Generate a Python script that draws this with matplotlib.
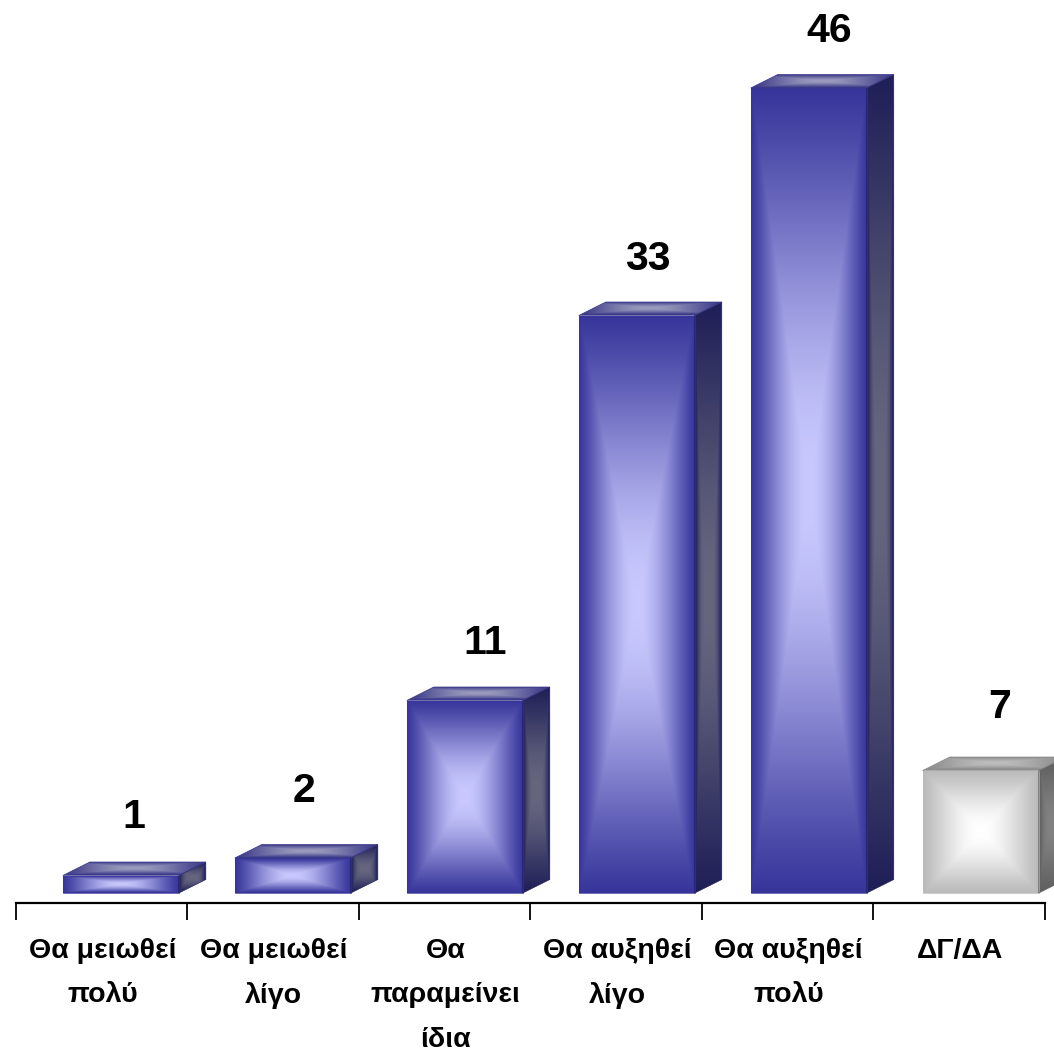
import numpy as np
import matplotlib
matplotlib.use("Agg")
import matplotlib.pyplot as plt
from matplotlib.colors import to_rgb
from matplotlib.patches import Polygon

categories = ["Θα μειωθεί\nπολύ", "Θα μειωθεί\nλίγο", "Θα\nπαραμείνει\nίδια",
              "Θα αυξηθεί\nλίγο", "Θα αυξηθεί\nπολύ", "ΔΓ/ΔΑ"]
values = [1, 2, 11, 33, 46, 7]
blue = dict(front=("#37359a", "#c9c9ff"), side=("#1f1f58", "#66667f"), top=("#3a3888", "#9c9cbe"))
grey = dict(front=("#bababa", "#ffffff"), side=("#5e5e5e", "#828282"), top=("#8a8a8a", "#bdbdbd"))
bar_styles = [blue, blue, blue, blue, blue, grey]
# hand placed value labels, pixels from the top middle of the front face
label_dx = [13.5, 11.5, 20, 11.5, 20, 19]
label_dy = [59, 67, 57, 56, 57, 64]

plt.rcParams['font.family'] = ['Liberation Sans', 'DejaVu Sans']
plt.rcParams['font.weight'] = 'bold'

W = 1054
PX = 0.72  # points per pixel at dpi 100
fig = plt.figure(figsize=(W / 100, W / 100), dpi=100)
ax = fig.add_axes([15.5 / W, (W - 893) / W, (1045 - 15.5) / W, 893 / W])
ax.set_xlim(0, 6)
ax.set_ylim(0, 893 / 17.5)
ax.patch.set_visible(False)

# width and depth of the boxes, in data units
step = 172 / 171.6
bar_w = 116 / 171.6
shift = 19.5 / 171.6
dx = 27 / 171.6
dy = 13.5 / 17.5


def shade(a):
    # a bit of s-curve, the light core stays wide
    return 0.5 * a * a * (3 - 2 * a) + 0.5 * a ** 2


def gradient(edge, mid, t):
    edge, mid = np.array(to_rgb(edge)), np.array(to_rgb(mid))
    return mid + (edge - mid) * t[..., None]


def face(poly_pts, extent, img, edge):
    poly = Polygon(poly_pts, closed=True, fc='none', ec=edge, lw=0.5, zorder=4, clip_on=False)
    ax.add_patch(poly)
    im = ax.imshow(img, extent=extent, origin='lower', aspect='auto', zorder=3,
                   interpolation='bilinear')
    im.set_clip_path(poly)
    im.set_clip_box(fig.bbox)


xs = np.arange(len(values)) * step + 0.5 + shift
bars = ax.bar(xs, values, width=bar_w, color='none', zorder=2)

for rect, val, st, ldx, ldy in zip(bars, values, bar_styles, label_dx, label_dy):
    x0, w = rect.get_x(), rect.get_width()
    x1 = x0 + w
    h = rect.get_height()

    # front face, rectangular gradient towards the middle
    ny, nx = max(int(h * 17.5), 8), 117
    u, v = np.meshgrid(np.linspace(-1, 1, nx), np.linspace(-1, 1, ny))
    t = shade(np.maximum(np.abs(u), np.abs(v)))
    face([(x0, 0), (x1, 0), (x1, h), (x0, h)], (x0, x1, 0, h),
         gradient(*st['front'], t), st['front'][0])

    # side face
    ny2 = ny + 14
    u, v = np.meshgrid(np.linspace(-1, 1, 27), np.linspace(-1, 1, ny2))
    t = shade(np.maximum(np.abs(v), np.abs(u) ** 2))
    face([(x1, 0), (x1 + dx, dy), (x1 + dx, h + dy), (x1, h)], (x1, x1 + dx, 0, h + dy),
         gradient(*st['side'], t), st['side'][0])

    # top face
    u, v = np.meshgrid(np.linspace(-1, 1, nx + 27), np.linspace(-1, 1, 14))
    t = shade(np.maximum(np.abs(u), np.abs(v)))
    face([(x0, h), (x1, h), (x1 + dx, h + dy), (x0 + dx, h + dy)], (x0, x1 + dx, h, h + dy),
         gradient(*st['top'], t), st['top'][0])

    ax.annotate(str(val), xy=(x0 + w / 2, h), xytext=(ldx * PX, ldy * PX),
                textcoords='offset points', ha='center', va='center',
                fontsize=29.5, fontweight='bold', color='black', annotation_clip=False)

ax.set_xlim(0, 6)
ax.set_ylim(0, 893 / 17.5)

for s in ['top', 'left', 'right']:
    ax.spines[s].set_visible(False)
ax.spines['bottom'].set_position(('outward', 9.5 * PX))
ax.spines['bottom'].set_linewidth(1.6)
ax.set_yticks([])
ax.set_xticks(range(7))
ax.set_xticklabels([])
ax.tick_params(axis='x', length=17 * PX, width=1.3, color='black')

for i, lab in enumerate(categories):
    for j, line in enumerate(lab.split("\n")):
        ax.annotate(line, xy=(i + 0.5, 0), xycoords=('data', 'axes fraction'),
                    xytext=(0.7, -(58 + j * 44.5) * PX), textcoords='offset points',
                    ha='center', va='center', fontsize=20.5, fontweight='bold')

fig.savefig("out.png", dpi=100)
